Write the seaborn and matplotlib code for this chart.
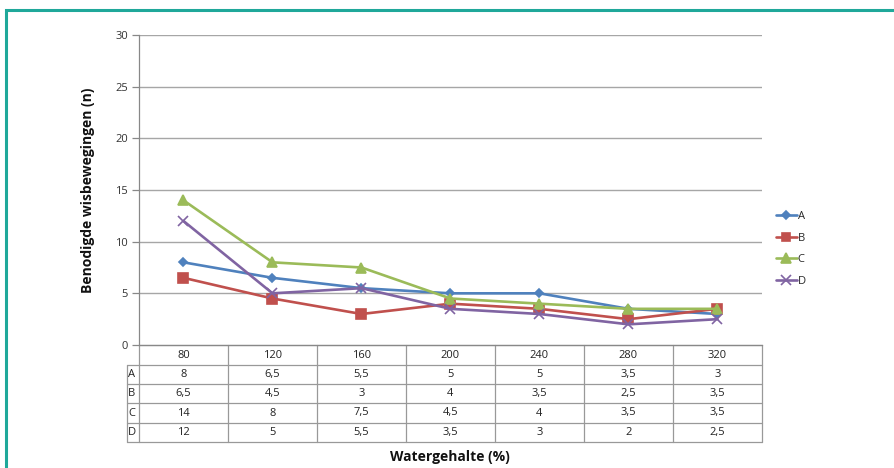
import matplotlib
matplotlib.use("Agg")
import matplotlib.pyplot as plt
import seaborn as sns
import pandas as pd
from matplotlib.patches import Rectangle
from matplotlib.lines import Line2D

categories = ["80", "120", "160", "200", "240", "280", "320"]
series_names = ["A", "B", "C", "D"]
A = [8, 6.5, 5.5, 5, 5, 3.5, 3]
B = [6.5, 4.5, 3, 4, 3.5, 2.5, 3.5]
C = [14, 8, 7.5, 4.5, 4, 3.5, 3.5]
D = [12, 5, 5.5, 3.5, 3, 2, 2.5]
yticks = [0, 5, 10, 15, 20, 25, 30]

values = {"A": A, "B": B, "C": C, "D": D}
rows = []
for s in series_names:
    for i, v in enumerate(values[s]):
        rows.append({"pos": i, "cat": categories[i], "series": s, "value": v})
df = pd.DataFrame(rows)

sns.set_theme(style="white")
plt.rcParams["font.family"] = ["Open Sans", "DejaVu Sans"]

W, H = 895, 468
fig = plt.figure(figsize=(W / 100, H / 100), dpi=100)
L, R, T, Bm = 139, 762, 35, 345
ax = fig.add_axes([L / W, 1 - Bm / H, (R - L) / W, (Bm - T) / H])

palette = {"A": "#4f81bd", "B": "#c0504d", "C": "#9bbb59", "D": "#8064a2"}
markers = {"A": "D", "B": "s", "C": "^", "D": "x"}
sizes = {"A": 4.5, "B": 6.5, "C": 7, "D": 7}

for s in series_names:
    sub = df[df["series"] == s]
    sns.lineplot(data=sub, x="pos", y="value", color=palette[s],
                 marker=markers[s], markersize=sizes[s], markeredgecolor=palette[s],
                 markeredgewidth=1.2, linewidth=1.9, ax=ax, legend=False)

ax.set_xlim(-0.5, len(categories) - 0.5)
ax.set_ylim(0, 30)
ax.set_yticks(yticks)
ax.set_yticklabels([str(t) for t in yticks], fontsize=8, color="#333333")
ax.set_xticks([])
ax.set_xlabel("")
ax.set_ylabel("")
ax.tick_params(axis="y", which="both", left=True, length=5, width=0.9,
               color="#888888", pad=3)
for sp in ["top", "right"]:
    ax.spines[sp].set_visible(False)
ax.spines["left"].set_color("#888888")
ax.spines["bottom"].set_color("#888888")
ax.spines["left"].set_linewidth(0.9)
ax.spines["bottom"].set_linewidth(0.9)
for t in yticks[1:]:
    ax.axhline(t, color="#a6a6a6", linewidth=1.0, zorder=0)

# Data table below the plot
trans = ax.transAxes
ph = Bm - T
row_h = 19.2 / ph
n = len(categories)
gc = "#999999"
lw = 0.9
hdr_top = 0
hdr_bot = -20 / ph
bottom = hdr_bot - 4 * row_h
lab_left = -12 / (R - L)
for i, c in enumerate(categories):
    ax.text((i + 0.5) / n, (hdr_top + hdr_bot) / 2, c, transform=trans,
            ha="center", va="center", fontsize=8, color="#222222", clip_on=False)
for i in range(n + 1):
    ax.add_line(Line2D([i / n, i / n], [hdr_top, bottom], transform=trans,
                       color=gc, lw=lw, clip_on=False))
ax.add_line(Line2D([lab_left, lab_left], [hdr_bot, bottom], transform=trans,
                   color=gc, lw=lw, clip_on=False))
ax.add_line(Line2D([0, 1], [hdr_top, hdr_top], transform=trans, color=gc, lw=lw, clip_on=False))
for r in range(5):
    yv = hdr_bot - r * row_h
    ax.add_line(Line2D([lab_left, 1], [yv, yv], transform=trans, color=gc, lw=lw, clip_on=False))
for r, s in enumerate(series_names):
    yc = hdr_bot - (r + 0.5) * row_h
    ax.text(lab_left + 0.002, yc, s, transform=trans, ha="left", va="center",
            fontsize=8, color="#222222", clip_on=False)
    for i, v in enumerate(values[s]):
        txt = f"{v:g}".replace(".", ",")
        ax.text((i + 0.5) / n, yc, txt, transform=trans, ha="center", va="center",
                fontsize=8, color="#222222", clip_on=False)

fig.text(88 / W, 1 - 190 / H, "Benodigde wisbewegingen (n)", rotation=90,
         ha="center", va="center", fontsize=10, fontweight="bold", color="#111111")
fig.text(450 / W, 1 - 457 / H, "Watergehalte (%)", ha="center", va="center",
         fontsize=10, fontweight="bold", color="#111111")

handles = [Line2D([0], [0], color=palette[s], marker=markers[s], lw=1.9,
                  markersize=sizes[s] - 0.5, markeredgecolor=palette[s], markeredgewidth=1.2)
           for s in series_names]
fig.legend(handles, series_names, loc="center left",
           bbox_to_anchor=(770 / W, 1 - 249 / H), frameon=False, fontsize=8,
           handlelength=1.9, handletextpad=0.1, labelspacing=0.95, borderpad=0)

fig.patches.append(Rectangle((6.5 / W, -0.1), 1.2, 1.1 - 10 / H, transform=fig.transFigure,
                             fill=False, edgecolor="#1fa89a", linewidth=2.2))

fig.savefig("out.png", dpi=100, facecolor="white")
